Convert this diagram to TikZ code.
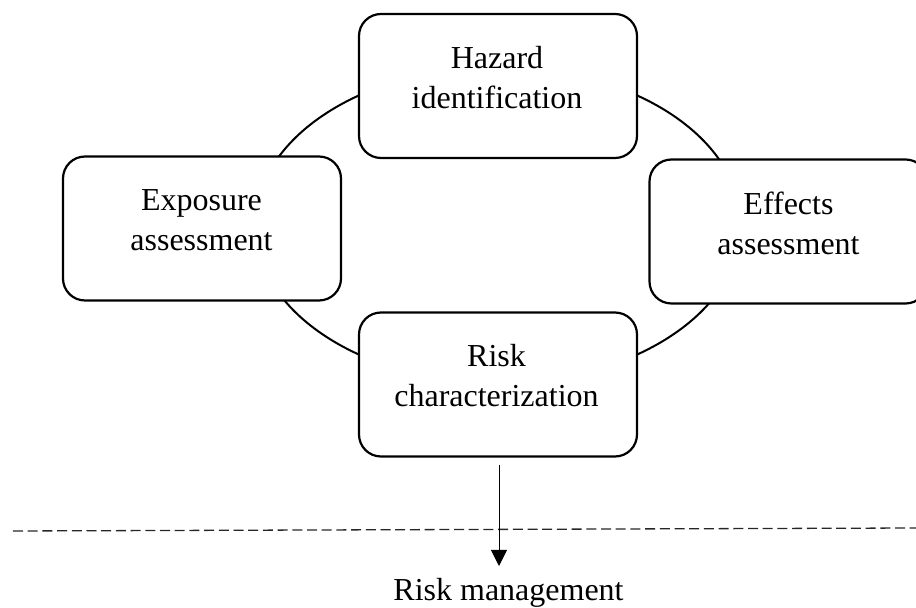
\documentclass[tikz,border=0pt]{standalone}
\usepackage{fontspec}
\setmainfont{Liberation Serif}
\usetikzlibrary{shapes.geometric,arrows.meta}
\begin{document}
\begin{tikzpicture}[x=0.5pt,y=-0.5pt,
  stagebox/.style={draw=black, line width=1.1pt, fill=white, rounded corners=11pt,
    minimum width=139pt, minimum height=72pt, inner sep=0pt},
  stagetext/.style={align=center, inner sep=0pt, font=\fontsize{16}{20}\selectfont, yshift=4.25pt},
  cycleline/.style={draw=black, line width=1pt, ellipse, inner sep=0pt,
    minimum width=243pt, minimum height=158pt},
  arr/.style={line width=0.5pt, -{Triangle[length=8pt,width=8pt]}},
  sepline/.style={line width=0.65pt, dash pattern=on 5pt off 2.35pt, draw=black!85}]
\useasboundingbox (0,0) rectangle (916,608);
\node[cycleline] (cycle) at (498,225) {};
\node[stagebox] (haz) at (498,86) {};
\node[stagebox] (exp) at (202,228.5) {};
\node[stagebox] (eff) at (788.5,231.5) {};
\node[stagebox] (risk) at (498,384.5) {};
\node[stagetext] (hazt) at (497,86) {Hazard\\identification};
\node[stagetext] (expt) at (201.5,228.5) {Exposure\\assessment};
\node[stagetext] (efft) at (788.5,231.5) {Effects\\assessment};
\node[stagetext] (riskt) at (496.5,384.5) {Risk\\characterization};
\node[anchor=base, inner sep=0pt, font=\fontsize{16}{20}\selectfont] (rm) at (508.5,601) {Risk management};
\coordinate (dl) at (13,531);
\coordinate (dr) at (916,528);
\coordinate (astart) at (499,465);
\coordinate (atip) at (499,566);
\draw[sepline] (dl) -- (dr);
\draw[arr] (astart) -- (atip);
\end{tikzpicture}
\end{document}
